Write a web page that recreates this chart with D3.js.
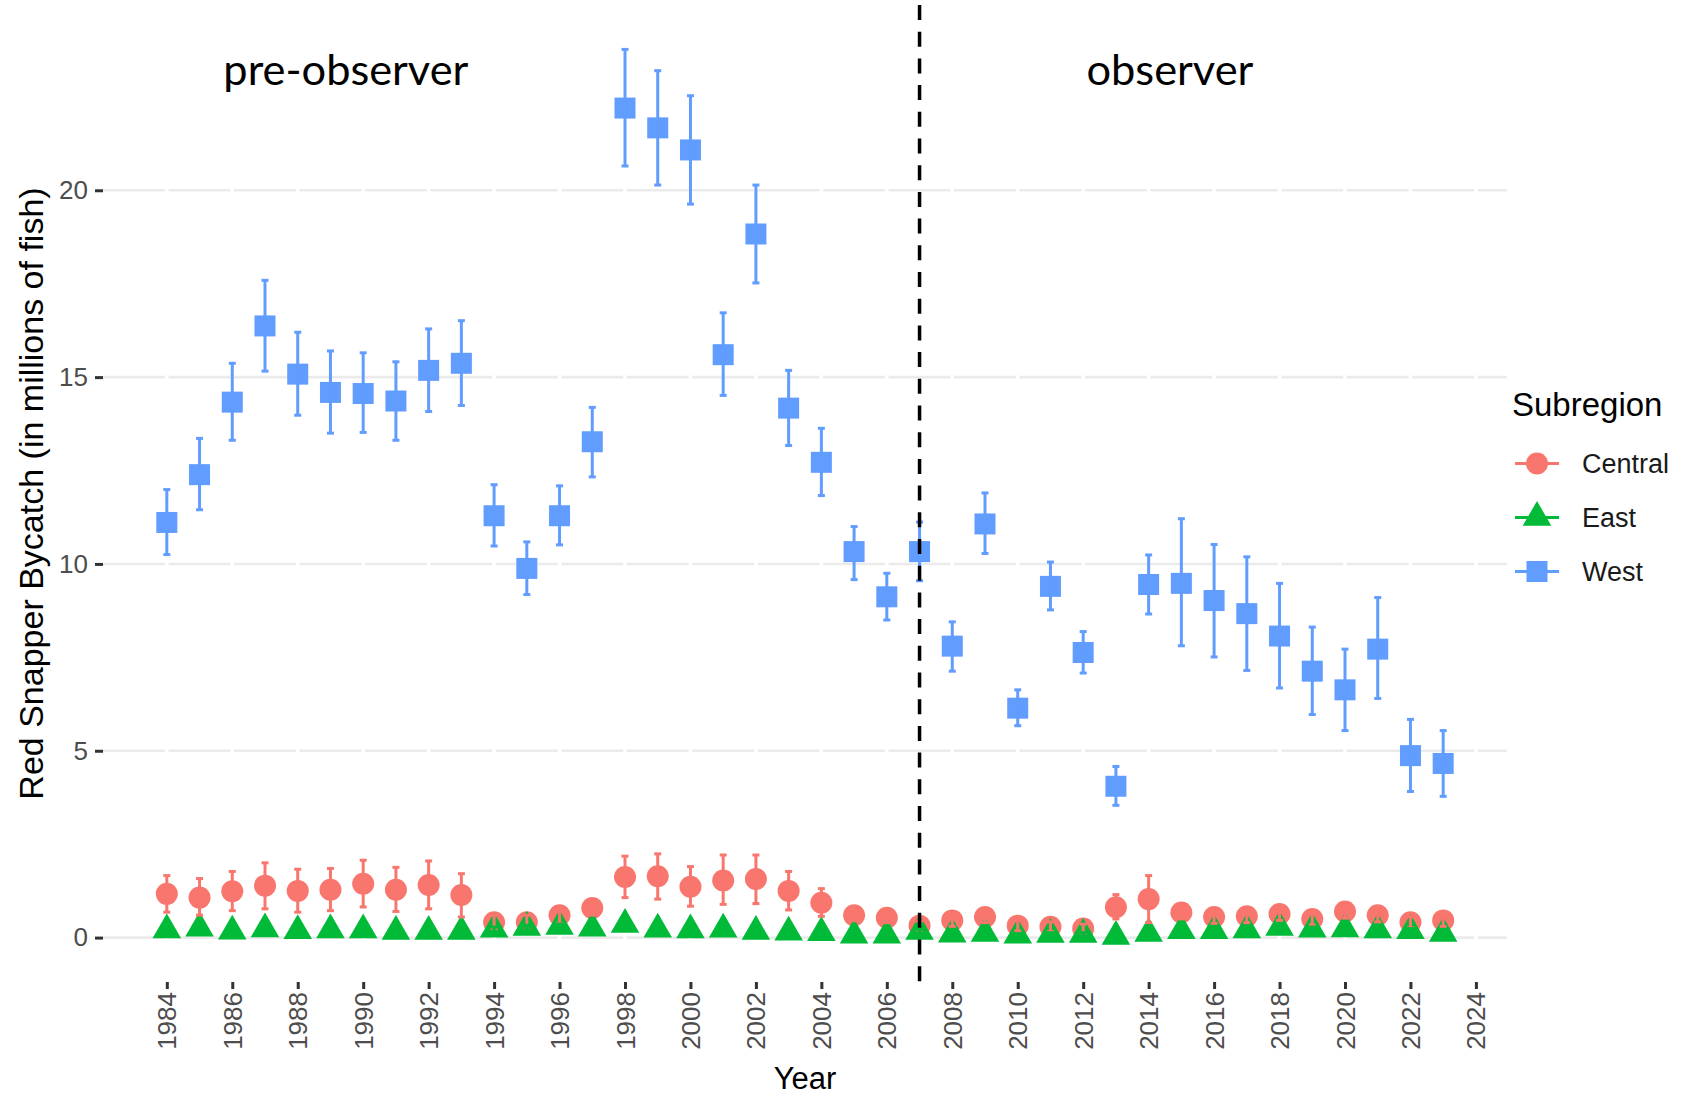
<!DOCTYPE html>
<html>
<head>
<meta charset="utf-8">
<script src="https://cdn.jsdelivr.net/npm/d3@7"></script>
<style>
  html, body { margin: 0; padding: 0; background: #fff; }
  svg { display: block; }
</style>
</head>
<body>
<svg id="chart" width="1692" height="1097"></svg>
<script>
// ---------------- data ----------------
const years = [1984,1985,1986,1987,1988,1989,1990,1991,1992,1993,1994,1995,1996,1997,1998,1999,2000,2001,2002,2003,
               2004,2005,2006,2007,2008,2009,2010,2011,2012,2013,2014,2015,2016,2017,2018,2019,2020,2021,2022,2023];

const westMid  = [11.11,12.39,14.33,16.37,15.08,14.59,14.56,14.36,15.18,15.37,11.29,9.88,11.29,13.27,22.2,21.67,21.08,15.6,18.83,14.17,
                  12.72,10.33,9.12,10.33,7.8,11.07,6.14,9.4,7.63,4.05,9.45,9.48,9.02,8.67,8.07,7.13,6.63,7.72,4.87,4.66];
const westLow  = [10.25,11.45,13.31,15.16,13.98,13.5,13.52,13.31,14.08,14.24,10.48,9.18,10.51,12.33,20.65,20.14,19.63,14.51,17.52,13.17,
                  11.83,9.58,8.5,9.55,7.13,10.28,5.67,8.77,7.08,3.54,8.66,7.81,7.51,7.15,6.68,5.97,5.54,6.4,3.91,3.78];
const westHigh = [11.99,13.36,15.37,17.59,16.2,15.7,15.65,15.41,16.29,16.51,12.12,10.59,12.09,14.19,23.77,23.2,22.53,16.72,20.14,15.18,
                  13.63,11.0,9.75,11.12,8.45,11.9,6.63,10.05,8.19,4.58,10.24,11.21,10.52,10.19,9.48,8.31,7.72,9.1,5.84,5.54];

const centralMid  = [1.17,1.07,1.24,1.39,1.25,1.28,1.44,1.28,1.41,1.14,0.41,0.41,0.6,0.79,1.62,1.64,1.36,1.53,1.57,1.25,
                     0.93,0.6,0.53,0.32,0.46,0.55,0.32,0.29,0.24,0.81,1.03,0.67,0.55,0.57,0.63,0.5,0.7,0.6,0.41,0.46];
const centralLow  = [0.68,0.6,0.72,0.77,0.68,0.72,0.82,0.7,0.77,0.55,0.22,0.22,0.38,0.6,1.07,1.03,0.84,0.89,0.91,0.74,
                     0.57,0.45,0.4,0.2,0.3,0.4,0.18,0.16,0.12,0.5,0.4,0.5,0.38,0.4,0.46,0.34,0.52,0.42,0.26,0.3];
const centralHigh = [1.66,1.58,1.77,2.0,1.83,1.85,2.07,1.88,2.05,1.71,0.6,0.6,0.82,0.98,2.18,2.24,1.9,2.21,2.21,1.77,
                     1.31,0.75,0.66,0.44,0.6,0.7,0.46,0.42,0.36,1.15,1.66,0.84,0.72,0.74,0.8,0.66,0.88,0.78,0.56,0.62];

const eastMid  = [0.2,0.25,0.17,0.23,0.18,0.2,0.2,0.16,0.16,0.16,0.22,0.27,0.3,0.25,0.35,0.22,0.2,0.22,0.16,0.14,
                  0.13,0.06,0.06,0.16,0.09,0.11,0.06,0.08,0.08,0.03,0.11,0.18,0.18,0.2,0.27,0.22,0.23,0.2,0.18,0.11];
const eastLow  = [0.14,0.19,0.11,0.17,0.12,0.14,0.14,0.1,0.1,0.1,0.16,0.21,0.24,0.19,0.28,0.16,0.14,0.16,0.1,0.08,
                  0.07,0.02,0.02,0.1,0.04,0.06,0.02,0.03,0.03,0.0,0.06,0.12,0.12,0.14,0.21,0.16,0.17,0.14,0.12,0.06];
const eastHigh = [0.26,0.31,0.23,0.29,0.24,0.26,0.26,0.22,0.22,0.22,0.28,0.33,0.36,0.31,0.42,0.28,0.26,0.28,0.22,0.2,
                  0.19,0.1,0.1,0.22,0.14,0.16,0.1,0.13,0.13,0.06,0.16,0.24,0.24,0.26,0.33,0.28,0.29,0.26,0.24,0.16];

const subregions = ["Central", "East", "West"];
const xTickValues = [1984,1986,1988,1990,1992,1994,1996,1998,2000,2002,2004,2006,2008,2010,2012,2014,2016,2018,2020,2022,2024];
const yTickValues = [0, 5, 10, 15, 20];
const observerStartYear = 2007;
const periodLabels = ["pre-observer", "observer"];
const periodLabelYears = [1989.47, 2014.65];

// ---------------- styles / layout ----------------
const colors = { Central: "#F8766D", East: "#00BA38", West: "#619CFF" };
const panel = { left: 103, right: 1507, top: 5, bottom: 982 };
const FONT = "'Liberation Sans', Arial, sans-serif";

const series = [
  { name: "Central", mid: centralMid, low: centralLow, high: centralHigh },
  { name: "East",    mid: eastMid,    low: eastLow,    high: eastHigh },
  { name: "West",    mid: westMid,    low: westLow,    high: westHigh }
];

// ggplot-like 5% expansion
const xMin = d3.min(years), xMax = d3.max(years);
const xPad = (xMax - xMin) * 0.05;
const allLow = d3.min(series, s => d3.min(s.low));
const allHigh = d3.max(series, s => d3.max(s.high));
const yPad = (allHigh - allLow) * 0.05;

const x = d3.scaleLinear().domain([xMin - xPad, xMax + xPad]).range([panel.left, panel.right]);
const y = d3.scaleLinear().domain([allLow - yPad, allHigh + yPad]).range([panel.bottom, panel.top]);

const svg = d3.select("#chart");

// ---------------- grid ----------------
const grid = svg.append("g");
grid.selectAll("line.h").data(yTickValues).join("line")
  .attr("x1", panel.left).attr("x2", panel.right)
  .attr("y1", d => y(d)).attr("y2", d => y(d))
  .attr("stroke", "#EBEBEB").attr("stroke-width", 2.6);
grid.selectAll("line.v").data(xTickValues).join("line")
  .attr("x1", d => x(d)).attr("x2", d => x(d))
  .attr("y1", panel.top).attr("y2", panel.bottom)
  .attr("stroke", "#FFFFFF").attr("stroke-width", 3.5);

// ---------------- axes ----------------
const yAxis = svg.append("g").attr("transform", `translate(${panel.left},0)`)
  .call(d3.axisLeft(y).tickValues(yTickValues).tickSize(8).tickPadding(7).tickFormat(d3.format("d")));
yAxis.select(".domain").remove();
yAxis.selectAll(".tick line").attr("stroke", "#333333").attr("stroke-width", 3);
yAxis.selectAll(".tick text").attr("fill", "#4D4D4D").style("font-family", FONT).style("font-size", "26px");

const xAxis = svg.append("g").attr("transform", `translate(0,${panel.bottom})`)
  .call(d3.axisBottom(x).tickValues(xTickValues).tickSize(7).tickFormat(d3.format("d")));
xAxis.select(".domain").remove();
xAxis.selectAll(".tick line").attr("stroke", "#333333").attr("stroke-width", 3);
xAxis.selectAll(".tick text")
  .attr("x", 0).attr("y", 0).attr("dy", null)
  .attr("transform", "translate(0,10) rotate(-90)")
  .attr("text-anchor", "end").attr("dominant-baseline", "central")
  .attr("fill", "#4D4D4D").style("font-family", FONT).style("font-size", "26px");

// axis titles
svg.append("text")
  .attr("transform", `translate(43,${(panel.top + panel.bottom) / 2}) rotate(-90)`)
  .attr("text-anchor", "middle")
  .style("font-family", FONT).style("font-size", "34px").attr("fill", "#000")
  .text("Red Snapper Bycatch (in millions of fish)");
svg.append("text")
  .attr("x", (panel.left + panel.right) / 2).attr("y", 1089)
  .attr("text-anchor", "middle")
  .style("font-family", FONT).style("font-size", "31px").attr("fill", "#000")
  .text("Year");

// ---------------- symbols ----------------
const triR = 16.5;
const symbolPath = {
  Central: d3.symbol(d3.symbolCircle, Math.PI * 11 * 11)(),
  West: d3.symbol(d3.symbolSquare, 21 * 21)(),
  East: `M0,${-triR}L${triR * Math.sqrt(3) / 2},${triR / 2}L${-triR * Math.sqrt(3) / 2},${triR / 2}Z`
};

// points (Central, East, West order)
const pts = svg.append("g");
series.forEach(s => {
  pts.append("g").selectAll("path").data(years.map((yr, i) => ({ yr, v: s.mid[i] }))).join("path")
    .attr("d", symbolPath[s.name])
    .attr("transform", d => `translate(${x(d.yr)},${y(d.v)})`)
    .attr("fill", colors[s.name]);
});

// error bars on top
const capHalf = 3.5;
const eb = svg.append("g");
series.forEach(s => {
  const g = eb.append("g").attr("stroke", colors[s.name]).attr("stroke-width", 3).attr("fill", "none");
  const d = years.map((yr, i) => ({ yr, lo: s.low[i], hi: s.high[i] }));
  g.selectAll("line.bar").data(d).join("line").attr("class", "bar")
    .attr("x1", e => x(e.yr)).attr("x2", e => x(e.yr))
    .attr("y1", e => y(e.lo)).attr("y2", e => y(e.hi));
  g.selectAll("line.capL").data(d).join("line").attr("class", "capL")
    .attr("x1", e => x(e.yr) - capHalf).attr("x2", e => x(e.yr) + capHalf)
    .attr("y1", e => y(e.lo)).attr("y2", e => y(e.lo));
  g.selectAll("line.capH").data(d).join("line").attr("class", "capH")
    .attr("x1", e => x(e.yr) - capHalf).attr("x2", e => x(e.yr) + capHalf)
    .attr("y1", e => y(e.hi)).attr("y2", e => y(e.hi));
});

// dashed vertical line
svg.append("line")
  .attr("x1", x(observerStartYear)).attr("x2", x(observerStartYear))
  .attr("y1", panel.top).attr("y2", panel.bottom)
  .attr("stroke", "#000").attr("stroke-width", 3.5).attr("stroke-dasharray", "15,11.7");

// period labels
const periodWidths = [245, 167];
periodLabels.forEach((lab, i) => {
  const t = svg.append("text")
    .attr("x", x(periodLabelYears[i])).attr("y", 85)
    .attr("text-anchor", "middle")
    .style("font-family", "Lato, 'Open Sans', sans-serif").style("font-size", "44px")
    .attr("fill", "#000").text(lab);
  const w = t.node().getComputedTextLength();
  t.style("font-size", (44 * periodWidths[i] / w).toFixed(2) + "px");
});

// ---------------- legend ----------------
const legend = svg.append("g");
legend.append("text").attr("x", 1512).attr("y", 416)
  .style("font-family", FONT).style("font-size", "33px").attr("fill", "#000").text("Subregion");
subregions.forEach((name, i) => {
  const cy = 463.5 + i * 54;
  const g = legend.append("g");
  g.append("path").attr("d", symbolPath[name]).attr("transform", `translate(1537,${cy})`).attr("fill", colors[name]);
  g.append("line").attr("x1", 1515).attr("x2", 1559).attr("y1", cy).attr("y2", cy)
    .attr("stroke", colors[name]).attr("stroke-width", 3);
  g.append("text").attr("x", 1582).attr("y", cy + 9.5)
    .style("font-family", FONT).style("font-size", "27px").attr("fill", "#1A1A1A").text(name);
});
</script>
</body>
</html>
